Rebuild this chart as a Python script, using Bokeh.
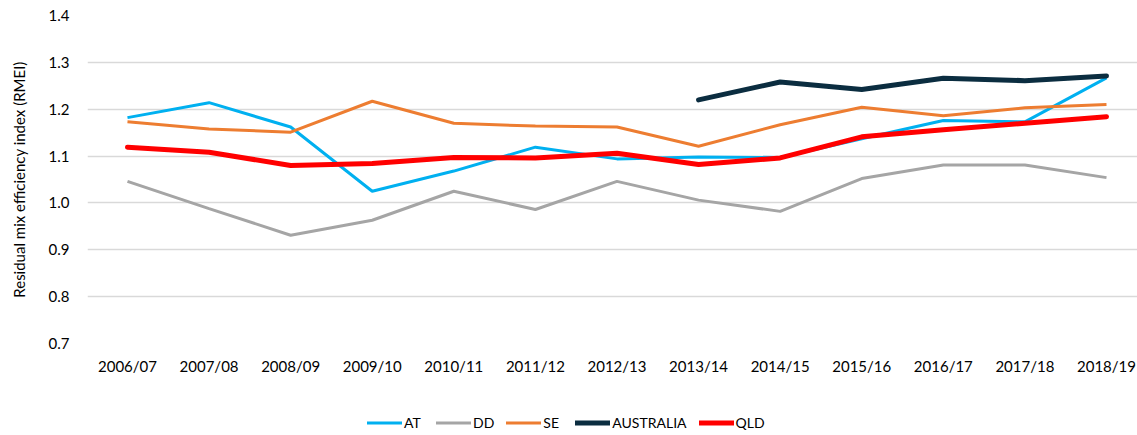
from bokeh.plotting import figure
from bokeh.layouts import column
from bokeh.models import Range1d, FixedTicker, Legend, LegendItem
from bokeh.embed import file_html
from bokeh.resources import INLINE

years = ["2006/07", "2007/08", "2008/09", "2009/10", "2010/11", "2011/12", "2012/13",
         "2013/14", "2014/15", "2015/16", "2016/17", "2017/18", "2018/19"]
at = [1.182, 1.214, 1.162, 1.025, 1.068, 1.119, 1.094, 1.098, 1.097, 1.137, 1.176, 1.173, 1.267]
dd = [1.046, 0.988, 0.931, 0.963, 1.025, 0.986, 1.046, 1.006, 0.982, 1.052, 1.081, 1.081, 1.054]
se = [1.173, 1.158, 1.151, 1.217, 1.170, 1.164, 1.162, 1.121, 1.167, 1.204, 1.186, 1.203, 1.210]
aus_years = ["2013/14", "2014/15", "2015/16", "2016/17", "2017/18", "2018/19"]
aus = [1.220, 1.258, 1.242, 1.266, 1.261, 1.271]
qld = [1.119, 1.108, 1.080, 1.084, 1.097, 1.096, 1.106, 1.082, 1.096, 1.141, 1.156, 1.170, 1.184]
y_ticks = [0.7, 0.8, 0.9, 1.0, 1.1, 1.2, 1.3, 1.4]

names = ["AT", "DD", "SE", "AUSTRALIA", "QLD"]
colors = ["#00B0F0", "#A5A5A5", "#ED7D31", "#0B2D40", "#FF0000"]
widths = [3, 3, 3, 5, 5]

FONT = "Lato"
xs = list(range(len(years)))
aus_x = [years.index(y) for y in aus_years]
series_x = [xs, xs, xs, aus_x, xs]
series_y = [at, dd, se, aus, qld]

p = figure(width=1137, height=385, output_backend="svg", toolbar_location=None,
           x_range=Range1d(-0.49, 12.38), y_range=Range1d(0.7, 1.4),
           min_border_left=87, min_border_right=0, min_border_top=15, min_border_bottom=42)
p.outline_line_color = None

for sx, sy, c, w in zip(series_x, series_y, colors, widths):
    p.line(sx, sy, line_color=c, line_width=w, line_cap="round" if w > 3 else "butt")

p.xaxis.ticker = FixedTicker(ticks=xs)
p.xaxis.major_label_overrides = {i: y for i, y in enumerate(years)}
p.yaxis.ticker = FixedTicker(ticks=y_ticks)
p.yaxis.major_label_overrides = {t: f"{t:.1f}" for t in y_ticks}

for ax in (p.xaxis[0], p.yaxis[0]):
    ax.axis_line_color = None
    ax.major_tick_line_color = None
    ax.minor_tick_line_color = None
    ax.major_label_text_font = FONT
    ax.major_label_text_font_size = "15px"
    ax.major_label_text_color = "#000000"
p.xaxis.major_label_standoff = 7
p.yaxis.major_label_standoff = 12
p.yaxis.axis_label = "Residual mix efficiency index (RMEI)"
p.yaxis.axis_label_text_font = FONT
p.yaxis.axis_label_text_font_size = "15px"
p.yaxis.axis_label_text_font_style = "normal"
p.yaxis.axis_label_text_color = "#000000"
p.yaxis.axis_label_standoff = 18

p.xgrid.grid_line_color = None
p.ygrid.grid_line_color = "#D9D9D9"
p.ygrid.grid_line_width = 1.5
p.ygrid.ticker = FixedTicker(ticks=y_ticks)

# legend strip: same series drawn out of view so only the legend shows
lf = figure(width=1137, height=50, output_backend="svg", toolbar_location=None,
            x_range=Range1d(100, 101), y_range=Range1d(100, 101),
            min_border=0, x_axis_location=None, y_axis_location=None)
lf.outline_line_color = None
lf.xgrid.visible = False
lf.ygrid.visible = False
items = []
for n, sx, sy, c, w in zip(names, series_x, series_y, colors, widths):
    r = lf.line(sx, sy, line_color=c, line_width=w, line_cap="round")
    items.append(LegendItem(label=n, renderers=[r]))
legend = Legend(items=items, orientation="horizontal", location=(280, 4),
                border_line_color=None, background_fill_alpha=0,
                label_text_font=FONT, label_text_font_size="14px", label_text_color="#000000",
                glyph_width=35, glyph_height=15, label_standoff=2, spacing=12,
                padding=0, margin=0)
lf.add_layout(legend, "center")

open("out.html", "w").write(file_html(column(p, lf, spacing=0), INLINE))
